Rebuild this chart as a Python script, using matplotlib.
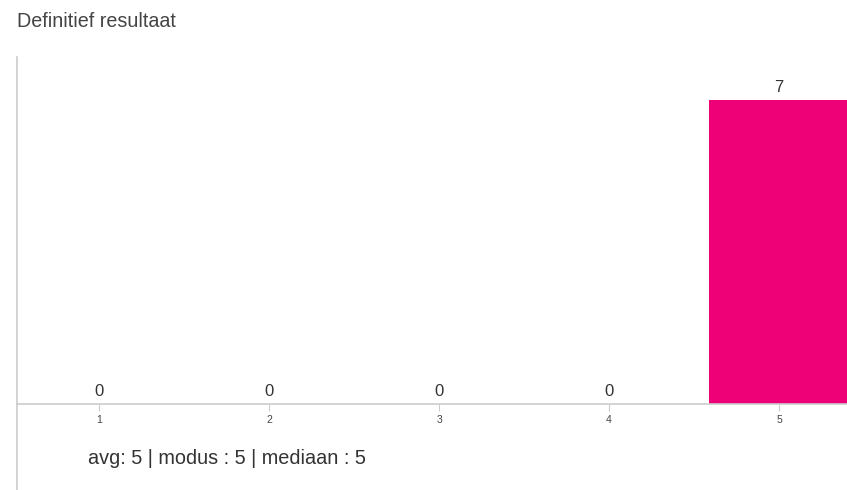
import matplotlib.pyplot as plt
from matplotlib.lines import Line2D

plt.rcParams['font.family'] = ['Liberation Sans', 'DejaVu Sans']

categories = [1, 2, 3, 4, 5]
counts = [0, 0, 0, 0, 7]
title = 'Definitief resultaat'
summary = 'avg: 5 | modus : 5 | mediaan : 5'

fig = plt.figure(figsize=(8.47, 4.9), dpi=100)
ax = fig.add_axes([0.02, 0.1755, 0.98, 0.708])

ax.bar(categories, counts, width=0.82, color='#ee0077')
for x, v in zip(categories, counts):
    ax.text(x, v + 0.12, str(v), ha='center', va='bottom', fontsize=12, color='#333333')

ax.set_xlim(0.515, 5.4)
ax.set_ylim(0, 8)
ax.set_xticks(categories)
ax.set_xticklabels([str(c) for c in categories], fontsize=7.5, color='#444444')
ax.tick_params(axis='x', length=5, color='#cccccc', pad=3)
ax.set_yticks([])
for s in ['top', 'right', 'left']:
    ax.spines[s].set_visible(False)
ax.spines['bottom'].set_color('#cccccc')
ax.spines['bottom'].set_linewidth(1.2)

# left rule running from top of plot to bottom of the figure
fig.add_artist(Line2D([0.02, 0.02], [0.0, 0.8837], transform=fig.transFigure,
                      color='#cccccc', linewidth=1.2))

fig.text(0.02, 0.957, title, ha='left', va='center', fontsize=14.2, color='#444444')
fig.text(0.104, 0.064, summary, ha='left', va='center', fontsize=14.3, color='#333333')

fig.savefig('out.png', dpi=100)
